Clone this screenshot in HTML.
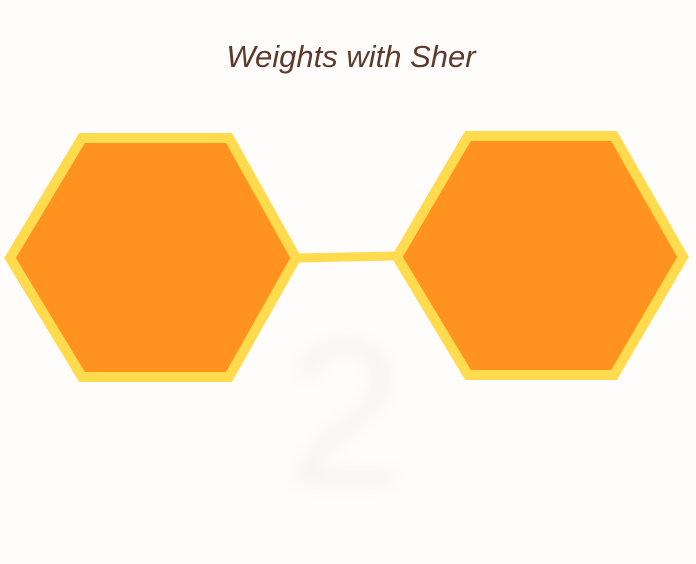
<!DOCTYPE html>
<html><head><meta charset="utf-8"><style>
html,body{margin:0;padding:0;background:#fffdfb;}
svg{display:block;}
</style></head><body>
<svg width="696" height="564" viewBox="0 0 696 564">
<rect width="696" height="564" fill="#fffdfb"/>
<text x="351" y="67" text-anchor="middle" font-family="Liberation Sans, sans-serif" font-style="italic" font-size="31" fill="#5e3a2c">Weights with Sher</text>
<defs><filter id="bl"><feGaussianBlur stdDeviation="8"/></filter></defs>
<text x="345" y="485" text-anchor="middle" font-family="Liberation Sans, sans-serif" font-size="210" fill="#eeebe6" opacity="0.45" filter="url(#bl)">2</text>
<line x1="297" y1="258" x2="395" y2="256" stroke="#ffdb4d" stroke-width="9"/>
<polygon points="10,258 82,138 229,138 296,258 229,377 82,377" fill="#ff931e" stroke="#ffdb4d" stroke-width="10" stroke-linejoin="miter"/>
<polygon points="397,257 468,136 614,136 683,257 614,375 468,375" fill="#ff931e" stroke="#ffdb4d" stroke-width="10" stroke-linejoin="miter"/>
</svg>
</body></html>
